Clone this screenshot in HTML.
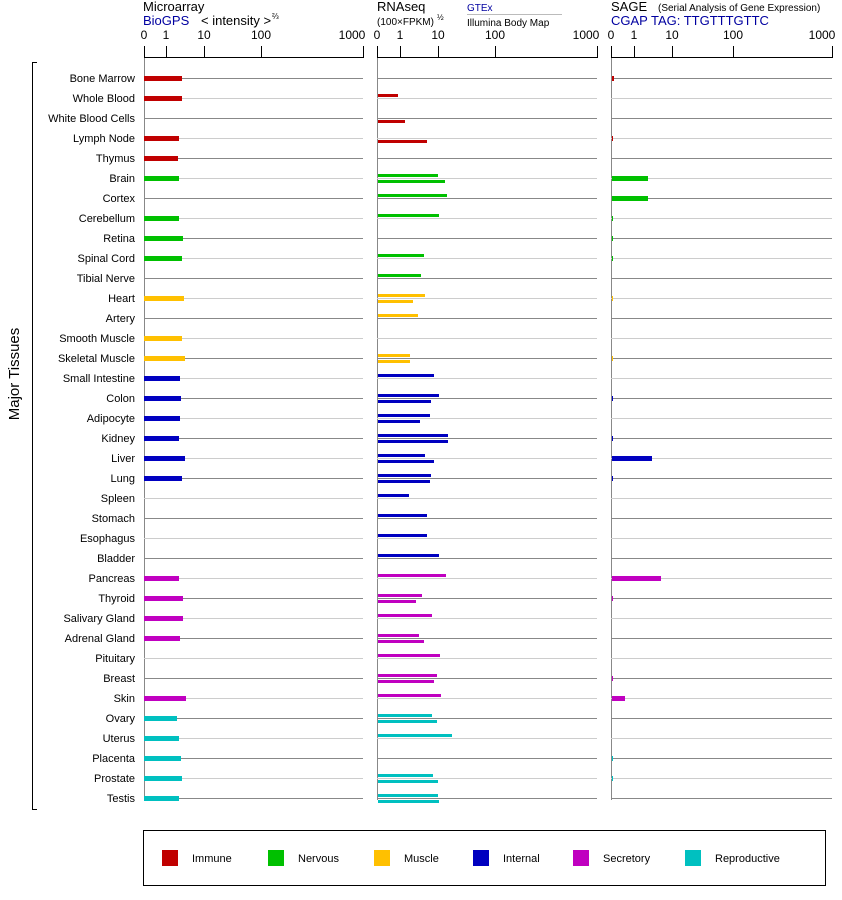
<!DOCTYPE html>
<html><head><meta charset="utf-8"><style>
body{margin:0;background:#fff}
svg{display:block;font-family:"Liberation Sans",sans-serif}
</style></head><body>
<svg width="842" height="900" viewBox="0 0 842 900" xmlns="http://www.w3.org/2000/svg">
<g font-size="13" fill="#000">
<text x="143" y="11">Microarray</text>
<text x="143" y="25" fill="#0000a0">BioGPS</text>
<text x="201" y="25">&lt; intensity &gt;</text><text x="272" y="19" font-size="8">⅔</text>
<text x="377" y="11">RNAseq</text>
<text x="377" y="25" font-size="10">(100×FPKM)</text><text x="437" y="20" font-size="8">½</text>
<text x="467" y="11" font-size="10" fill="#0000a0">GTEx</text>
<line x1="467" y1="14.5" x2="562" y2="14.5" stroke="#bbb"/>
<text x="467" y="26" font-size="10">Illumina Body Map</text>
<text x="611" y="11">SAGE</text><text x="658" y="11" font-size="10">(Serial Analysis of Gene Expression)</text>
<text x="611" y="25" fill="#0000a0">CGAP TAG: TTGTTTGTTC</text>
</g>
<g font-size="12" text-anchor="middle">
<text x="144" y="39">0</text><text x="166" y="39">1</text><text x="204" y="39">10</text><text x="261" y="39">100</text><text x="352" y="39">1000</text>
<text x="377" y="39">0</text><text x="400" y="39">1</text><text x="438" y="39">10</text><text x="495" y="39">100</text><text x="586" y="39">1000</text>
<text x="611" y="39">0</text><text x="634" y="39">1</text><text x="672" y="39">10</text><text x="733" y="39">100</text><text x="822" y="39">1000</text>
</g>
<g stroke="#000" stroke-width="1">
<path d="M144.5 46v11M166.5 46v11M204.5 46v11M261.5 46v11M363.5 46v11M144 57.5h220"/>
<path d="M377.5 46v11M400.5 46v11M438.5 46v11M495.5 46v11M597.5 46v11M377 57.5h221"/>
<path d="M611.5 46v11M634.5 46v11M672.5 46v11M733.5 46v11M832.5 46v11M611 57.5h222"/>
<path d="M37 62.5h-4.5v747h4.5" fill="none"/>
</g>
<g stroke="#888"><path d="M144.5 58v742M377.5 58v742M611.5 58v742"/></g>
<g stroke-width="1">
<path stroke="#888" d="M144 78.5h219M377 78.5h220M611 78.5h221M144 118.5h219M377 118.5h220M611 118.5h221M144 158.5h219M377 158.5h220M611 158.5h221M144 198.5h219M377 198.5h220M611 198.5h221M144 238.5h219M377 238.5h220M611 238.5h221M144 278.5h219M377 278.5h220M611 278.5h221M144 318.5h219M377 318.5h220M611 318.5h221M144 358.5h219M377 358.5h220M611 358.5h221M144 398.5h219M377 398.5h220M611 398.5h221M144 438.5h219M377 438.5h220M611 438.5h221M144 478.5h219M377 478.5h220M611 478.5h221M144 518.5h219M377 518.5h220M611 518.5h221M144 558.5h219M377 558.5h220M611 558.5h221M144 598.5h219M377 598.5h220M611 598.5h221M144 638.5h219M377 638.5h220M611 638.5h221M144 678.5h219M377 678.5h220M611 678.5h221M144 718.5h219M377 718.5h220M611 718.5h221M144 758.5h219M377 758.5h220M611 758.5h221M144 798.5h219M377 798.5h220M611 798.5h221"/>
<path stroke="#ccc" d="M144 98.5h219M377 98.5h220M611 98.5h221M144 138.5h219M377 138.5h220M611 138.5h221M144 178.5h219M377 178.5h220M611 178.5h221M144 218.5h219M377 218.5h220M611 218.5h221M144 258.5h219M377 258.5h220M611 258.5h221M144 298.5h219M377 298.5h220M611 298.5h221M144 338.5h219M377 338.5h220M611 338.5h221M144 378.5h219M377 378.5h220M611 378.5h221M144 418.5h219M377 418.5h220M611 418.5h221M144 458.5h219M377 458.5h220M611 458.5h221M144 498.5h219M377 498.5h220M611 498.5h221M144 538.5h219M377 538.5h220M611 538.5h221M144 578.5h219M377 578.5h220M611 578.5h221M144 618.5h219M377 618.5h220M611 618.5h221M144 658.5h219M377 658.5h220M611 658.5h221M144 698.5h219M377 698.5h220M611 698.5h221M144 738.5h219M377 738.5h220M611 738.5h221M144 778.5h219M377 778.5h220M611 778.5h221"/>
</g>
<g font-size="11" text-anchor="end">
<text x="135" y="82">Bone Marrow</text><text x="135" y="102">Whole Blood</text><text x="135" y="122">White Blood Cells</text><text x="135" y="142">Lymph Node</text><text x="135" y="162">Thymus</text><text x="135" y="182">Brain</text><text x="135" y="202">Cortex</text><text x="135" y="222">Cerebellum</text><text x="135" y="242">Retina</text><text x="135" y="262">Spinal Cord</text><text x="135" y="282">Tibial Nerve</text><text x="135" y="302">Heart</text><text x="135" y="322">Artery</text><text x="135" y="342">Smooth Muscle</text><text x="135" y="362">Skeletal Muscle</text><text x="135" y="382">Small Intestine</text><text x="135" y="402">Colon</text><text x="135" y="422">Adipocyte</text><text x="135" y="442">Kidney</text><text x="135" y="462">Liver</text><text x="135" y="482">Lung</text><text x="135" y="502">Spleen</text><text x="135" y="522">Stomach</text><text x="135" y="542">Esophagus</text><text x="135" y="562">Bladder</text><text x="135" y="582">Pancreas</text><text x="135" y="602">Thyroid</text><text x="135" y="622">Salivary Gland</text><text x="135" y="642">Adrenal Gland</text><text x="135" y="662">Pituitary</text><text x="135" y="682">Breast</text><text x="135" y="702">Skin</text><text x="135" y="722">Ovary</text><text x="135" y="742">Uterus</text><text x="135" y="762">Placenta</text><text x="135" y="782">Prostate</text><text x="135" y="802">Testis</text>
</g>
<text transform="translate(19,374) rotate(-90)" font-size="15" text-anchor="middle">Major Tissues</text>
<g>
<g fill="#c00000"><rect x="144" y="76" width="38" height="5"/><rect x="144" y="96" width="38" height="5"/><rect x="144" y="136" width="35" height="5"/><rect x="144" y="156" width="34" height="5"/></g>
<g fill="#00c000"><rect x="144" y="176" width="35" height="5"/><rect x="144" y="216" width="35" height="5"/><rect x="144" y="236" width="39" height="5"/><rect x="144" y="256" width="38" height="5"/></g>
<g fill="#ffc000"><rect x="144" y="296" width="40" height="5"/><rect x="144" y="336" width="38" height="5"/><rect x="144" y="356" width="41" height="5"/></g>
<g fill="#0000c0"><rect x="144" y="376" width="36" height="5"/><rect x="144" y="396" width="37" height="5"/><rect x="144" y="416" width="36" height="5"/><rect x="144" y="436" width="35" height="5"/><rect x="144" y="456" width="41" height="5"/><rect x="144" y="476" width="38" height="5"/></g>
<g fill="#c000c0"><rect x="144" y="576" width="35" height="5"/><rect x="144" y="596" width="39" height="5"/><rect x="144" y="616" width="39" height="5"/><rect x="144" y="636" width="36" height="5"/><rect x="144" y="696" width="42" height="5"/></g>
<g fill="#00c0c0"><rect x="144" y="716" width="33" height="5"/><rect x="144" y="736" width="35" height="5"/><rect x="144" y="756" width="37" height="5"/><rect x="144" y="776" width="38" height="5"/><rect x="144" y="796" width="35" height="5"/></g>
</g>
<g>
<g fill="#c00000"><rect x="378" y="94" width="20" height="3"/><rect x="378" y="120" width="27" height="3"/><rect x="378" y="140" width="49" height="3"/></g>
<g fill="#00c000"><rect x="378" y="174" width="60" height="3"/><rect x="378" y="180" width="67" height="3"/><rect x="378" y="194" width="69" height="3"/><rect x="378" y="214" width="61" height="3"/><rect x="378" y="254" width="46" height="3"/><rect x="378" y="274" width="43" height="3"/></g>
<g fill="#ffc000"><rect x="378" y="294" width="47" height="3"/><rect x="378" y="300" width="35" height="3"/><rect x="378" y="314" width="40" height="3"/><rect x="378" y="354" width="32" height="3"/><rect x="378" y="360" width="32" height="3"/></g>
<g fill="#0000c0"><rect x="378" y="374" width="56" height="3"/><rect x="378" y="394" width="61" height="3"/><rect x="378" y="400" width="53" height="3"/><rect x="378" y="414" width="52" height="3"/><rect x="378" y="420" width="42" height="3"/><rect x="378" y="434" width="70" height="3"/><rect x="378" y="440" width="70" height="3"/><rect x="378" y="454" width="47" height="3"/><rect x="378" y="460" width="56" height="3"/><rect x="378" y="474" width="53" height="3"/><rect x="378" y="480" width="52" height="3"/><rect x="378" y="494" width="31" height="3"/><rect x="378" y="514" width="49" height="3"/><rect x="378" y="534" width="49" height="3"/><rect x="378" y="554" width="61" height="3"/></g>
<g fill="#c000c0"><rect x="378" y="574" width="68" height="3"/><rect x="378" y="594" width="44" height="3"/><rect x="378" y="600" width="38" height="3"/><rect x="378" y="614" width="54" height="3"/><rect x="378" y="634" width="41" height="3"/><rect x="378" y="640" width="46" height="3"/><rect x="378" y="654" width="62" height="3"/><rect x="378" y="674" width="59" height="3"/><rect x="378" y="680" width="56" height="3"/><rect x="378" y="694" width="63" height="3"/></g>
<g fill="#00c0c0"><rect x="378" y="714" width="54" height="3"/><rect x="378" y="720" width="59" height="3"/><rect x="378" y="734" width="74" height="3"/><rect x="378" y="774" width="55" height="3"/><rect x="378" y="780" width="60" height="3"/><rect x="378" y="794" width="60" height="3"/><rect x="378" y="800" width="61" height="3"/></g>
</g>
<g>
<g fill="#c00000"><rect x="612" y="76" width="2" height="5"/><rect x="612" y="136" width="1" height="5"/></g>
<g fill="#00c000"><rect x="612" y="176" width="36" height="5"/><rect x="612" y="196" width="36" height="5"/><rect x="612" y="216" width="1" height="5"/><rect x="612" y="236" width="1" height="5"/><rect x="612" y="256" width="1" height="5"/></g>
<g fill="#ffc000"><rect x="612" y="296" width="1" height="5"/><rect x="612" y="356" width="1" height="5"/></g>
<g fill="#0000c0"><rect x="612" y="396" width="1" height="5"/><rect x="612" y="436" width="1" height="5"/><rect x="612" y="456" width="40" height="5"/><rect x="612" y="476" width="1" height="5"/></g>
<g fill="#c000c0"><rect x="612" y="576" width="49" height="5"/><rect x="612" y="596" width="1" height="5"/><rect x="612" y="676" width="1" height="5"/><rect x="612" y="696" width="13" height="5"/></g>
<g fill="#00c0c0"><rect x="612" y="756" width="1" height="5"/><rect x="612" y="776" width="1" height="5"/></g>
</g>
<rect x="143.5" y="830.5" width="682" height="55" fill="none" stroke="#000"/>
<g font-size="11">
<rect x="162" y="850" width="16" height="16" fill="#c00000"/><text x="192" y="862">Immune</text>
<rect x="268" y="850" width="16" height="16" fill="#00c000"/><text x="298" y="862">Nervous</text>
<rect x="374" y="850" width="16" height="16" fill="#ffc000"/><text x="404" y="862">Muscle</text>
<rect x="473" y="850" width="16" height="16" fill="#0000c0"/><text x="503" y="862">Internal</text>
<rect x="573" y="850" width="16" height="16" fill="#c000c0"/><text x="603" y="862">Secretory</text>
<rect x="685" y="850" width="16" height="16" fill="#00c0c0"/><text x="715" y="862">Reproductive</text>
</g>
</svg>
</body></html>
